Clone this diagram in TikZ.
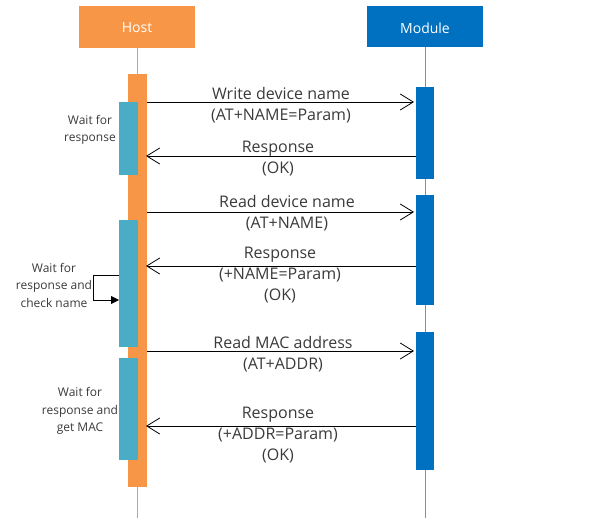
\documentclass[tikz,border=0pt]{standalone}
\usepackage{fontspec}
\setmainfont{Open Sans}
\usetikzlibrary{arrows.meta}
\definecolor{horange}{HTML}{F79646}
\definecolor{hteal}{HTML}{4BACC6}
\definecolor{mblue}{HTML}{0070C0}
\definecolor{mline}{HTML}{5B9BD5}
\definecolor{tgray}{HTML}{3A3A3A}
\begin{document}
\begin{tikzpicture}[x=1pt,y=-1pt,
  hdr/.style={draw=none,font=\fontsize{14}{16}\selectfont,text=white},
  msg/.style={draw=black,line width=0.8pt,-{Straight Barb[length=13pt,width=16pt,line width=0.8pt]}},
  lbl/.style={text=tgray,font=\fontsize{16}{21}\selectfont,align=center,inner sep=0pt},
  side/.style={text=tgray,font=\fontsize{12}{17.5}\selectfont,align=center,inner sep=0pt}]
\useasboundingbox (0,0) rectangle (595,530);
% headers
\fill[horange] (79,6) rectangle (195,48);
\node[hdr] (host) at (137,28) {Host};
\fill[mblue] (367,6) rectangle (483,47);
\node[hdr] (module) at (425,28) {Module};
% lifelines
\draw[horange,line width=1pt] (137,48) -- (137,518);
\draw[mline,line width=1pt] (425,47) -- (425,518);
% host activation
\fill[horange] (128,74) rectangle (147,487);
\fill[hteal] (119,102) rectangle (138,175);
\fill[hteal] (119,220) rectangle (138,347);
\fill[hteal] (119,358) rectangle (138,460);
% module activations
\fill[mblue] (416,87) rectangle (434,179);
\fill[mblue] (416,195) rectangle (434,305);
\fill[mblue] (416,332) rectangle (434,470);
% coordinates
\coordinate (h1) at (147,102); \coordinate (m1) at (414,102);
\coordinate (m2) at (416,156); \coordinate (h2) at (146,156);
\coordinate (h3) at (147,212); \coordinate (m3) at (414,212);
\coordinate (m4) at (416,266); \coordinate (h4) at (146,266);
\coordinate (h5) at (147,351); \coordinate (m5) at (414,351);
\coordinate (m6) at (416,426); \coordinate (h6) at (146,426);
\draw[msg] (h1) -- (m1);
\draw[msg] (m2) -- (h2);
\draw[msg] (h3) -- (m3);
\draw[msg] (m4) -- (h4);
\draw[msg] (h5) -- (m5);
\draw[msg] (m6) -- (h6);
% labels
\node[lbl] (l1) at (281,105) {Write device name\\(AT+NAME=Param)};
\node[lbl] (l2) at (278,159) {Response\\(OK)};
\node[lbl] (l3) at (287,213) {Read device name\\(AT+NAME)};
\node[lbl] (l4) at (280,275.5) {Response\\(+NAME=Param)\\(OK)};
\node[lbl] (l5) at (283,354.5) {Read MAC address\\(AT+ADDR)};
\node[lbl] (l6) at (278,435.5) {Response\\(+ADDR=Param)\\(OK)};
% side notes
\node[side] (s1) at (90,130) {Wait for\\response};
\node[side] (s2) at (54,285) {Wait for\\response and\\check name};
\node[side] (s3) at (80,411) {Wait for\\response and\\get MAC};
% self loop
\coordinate (a1) at (119,275);
\coordinate (a2) at (119,300);
\draw[black,line width=0.8pt,-{Triangle[length=8pt,width=8pt]}] (a1) -- (93,275) -- (93,300) -- (a2);
\end{tikzpicture}
\end{document}
